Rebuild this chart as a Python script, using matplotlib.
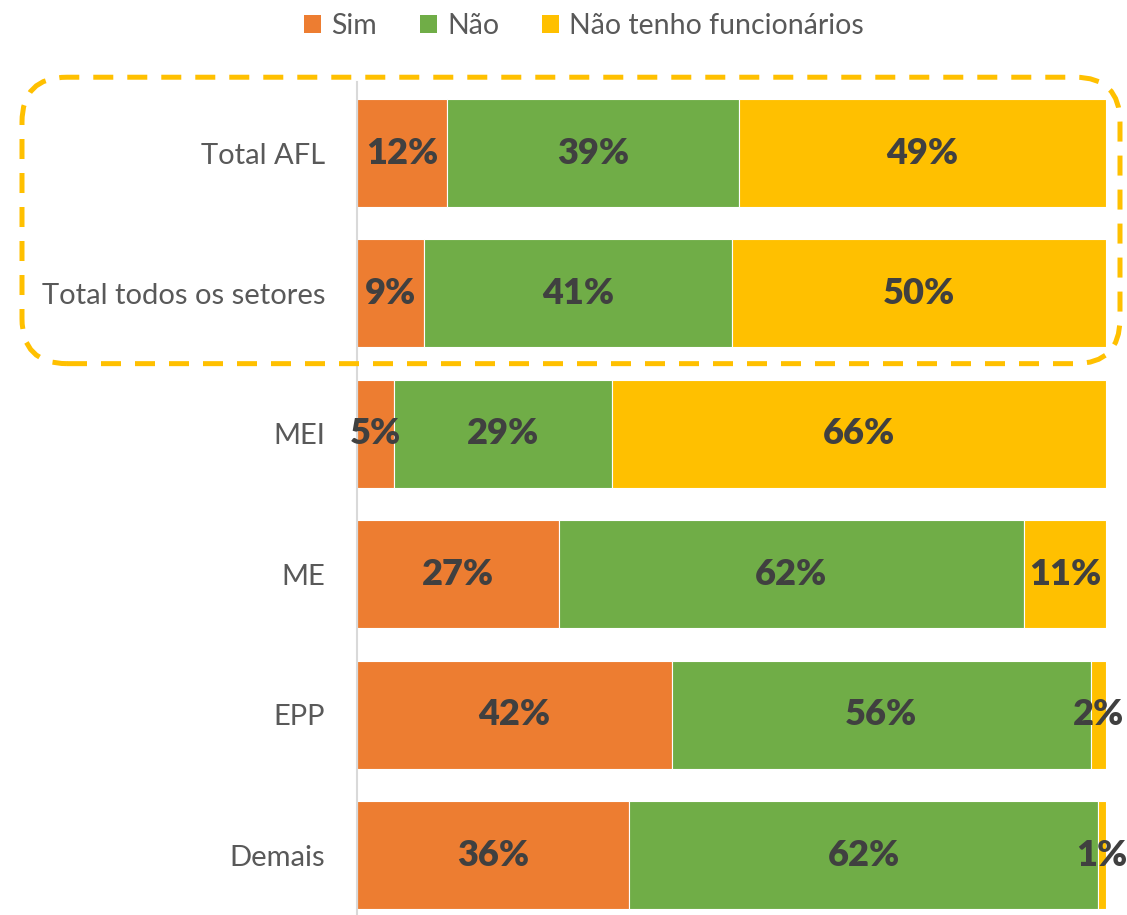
import matplotlib
matplotlib.use("Agg")
import matplotlib.pyplot as plt
import numpy as np
from matplotlib.patches import FancyBboxPatch, Patch
from matplotlib.transforms import IdentityTransform

plt.rcParams['font.family'] = ['Lato', 'DejaVu Sans']

categories = ["Total AFL", "Total todos os setores", "MEI", "ME", "EPP", "Demais"]
series_names = ["Sim", "Não", "Não tenho funcionários"]
sim = [12, 9, 5, 27, 42, 36]
nao = [39, 41, 29, 62, 56, 62]
nao_tenho = [49, 50, 66, 11, 2, 1]
colors = ["#ED7D31", "#70AD47", "#FFC000"]

W, H = 1127, 915
fig = plt.figure(figsize=(W / 100, H / 100), dpi=100)
ax = fig.add_axes([357 / W, 0, (1106 - 357) / W, (915 - 82) / H])

data = np.array([sim, nao, nao_tenho], dtype=float)
totals = data.sum(axis=0)
shares = data / totals * 100
y = np.arange(len(categories))
left = np.zeros(len(categories))
for i, name in enumerate(series_names):
    ax.barh(y, shares[i], left=left, height=0.77, color=colors[i],
            edgecolor="white", linewidth=0.8, label=name)
    for j in range(len(categories)):
        ax.text(left[j] + shares[i][j] / 2, y[j], f"{int(data[i][j])}%",
                ha="center", va="center", fontsize=26, fontweight="heavy",
                color="#404040")
    left += shares[i]

ax.set_xlim(0, 100)
ax.set_ylim(5.427, -0.506)
ax.set_yticks(y)
ax.set_yticklabels(categories, fontsize=21, color="#595959")
ax.tick_params(axis="y", length=0, pad=23)
ax.set_xticks([])
for s in ["top", "right", "bottom"]:
    ax.spines[s].set_visible(False)
ax.spines["left"].set_color("#D9D9D9")
ax.spines["left"].set_linewidth(1.5)

handles = [Patch(facecolor=c, edgecolor="none") for c in colors]
fig.legend(handles, series_names, loc="center", bbox_to_anchor=(584 / W, 1 - 26 / H),
           ncol=3, frameon=False, fontsize=20.5, handlelength=0.6, handleheight=0.6,
           handletextpad=0.35, columnspacing=1.5, labelcolor="#595959")

# dashed rounded highlight box around the two totals
fig.canvas.draw()
_, ytop = ax.transData.transform((0, -0.54))
_, ybot = ax.transData.transform((0, 1.5))
x0, x1 = 22, 1120
box = FancyBboxPatch((x0, ybot), x1 - x0, ytop - ybot,
                     boxstyle="round,pad=0,rounding_size=45",
                     transform=IdentityTransform(), fill=False,
                     edgecolor="#FFC000", linewidth=3.6,
                     linestyle=(0, (4, 2.8)), clip_on=False)
fig.patches.append(box)

fig.savefig("out.png", dpi=100)
